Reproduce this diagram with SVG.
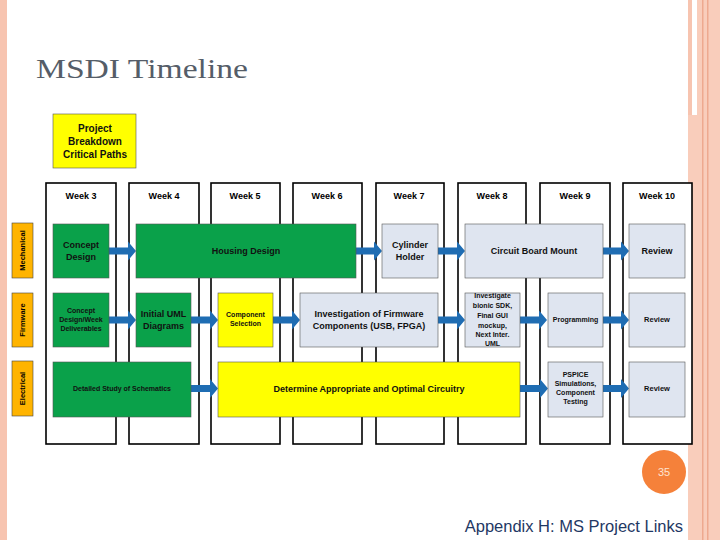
<svg xmlns="http://www.w3.org/2000/svg" width="720" height="540" viewBox="0 0 720 540">
<style>
.col{fill:#fff;stroke:#000;stroke-width:1.6}
.wk{font:bold 9px "Liberation Sans",Arial,sans-serif;fill:#000;text-anchor:middle}
.side{fill:#ffb400;stroke:#444;stroke-width:0.6}
.sidet{font:bold 7.5px "Liberation Sans",Arial,sans-serif;fill:#000;text-anchor:middle}
.g{fill:#0aa14a;stroke:#555;stroke-width:0.6}
.y{fill:#ffff00;stroke:#555;stroke-width:0.6}
.l{fill:#dfe5f0;stroke:#555;stroke-width:0.6}
.t{font-family:"Liberation Sans",Arial,sans-serif;font-weight:bold;fill:#111;text-anchor:middle}
.a{fill:#1f6db3}
</style>
<rect x="0" y="0" width="7" height="540" fill="#f7c4b0"/>
<rect x="688" y="0" width="4" height="115" fill="#f7c4b0"/>
<rect x="688" y="115" width="32" height="425" fill="#f9cdbb"/>
<rect x="697" y="0" width="23" height="540" fill="#f9cdbb"/>
<rect x="702" y="0" width="1.5" height="540" fill="#eea98f"/>
<rect x="707" y="0" width="1.5" height="540" fill="#eea98f"/>
<text x="36" y="78" font-family="Liberation Serif,serif" font-size="28" fill="#555d68" textLength="212" lengthAdjust="spacingAndGlyphs">MSDI Timeline</text>

<g id="critical-paths"><rect x="53" y="114" width="83" height="54" class="y" stroke="#000"/>
<text class="t" font-size="10"><tspan x="95" y="132">Project</tspan><tspan x="95" y="145">Breakdown</tspan><tspan x="95" y="158">Critical Paths</tspan></text></g>

<g id="weeks">
<rect class="col" x="46" y="183" width="70" height="261"/><text class="wk" x="81" y="199">Week 3</text>
<rect class="col" x="129" y="183" width="70" height="261"/><text class="wk" x="164" y="199">Week 4</text>
<rect class="col" x="211" y="183" width="69" height="261"/><text class="wk" x="245" y="199">Week 5</text>
<rect class="col" x="293" y="183" width="69" height="261"/><text class="wk" x="327" y="199">Week 6</text>
<rect class="col" x="376" y="183" width="68" height="261"/><text class="wk" x="409" y="199">Week 7</text>
<rect class="col" x="458" y="183" width="68" height="261"/><text class="wk" x="492" y="199">Week 8</text>
<rect class="col" x="540" y="183" width="70" height="261"/><text class="wk" x="575" y="199">Week 9</text>
<rect class="col" x="623" y="183" width="69" height="261"/><text class="wk" x="657" y="199">Week 10</text>
</g>

<g id="lanes">
<rect class="side" x="12" y="223" width="21" height="55"/><text class="sidet" transform="translate(25,250.5) rotate(-90)">Mechanical</text>
<rect class="side" x="12" y="293" width="21" height="54"/><text class="sidet" transform="translate(25,320) rotate(-90)">Firmware</text>
<rect class="side" x="12" y="361" width="21" height="55"/><text class="sidet" transform="translate(25,388.5) rotate(-90)">Electrical</text>
</g>

<g id="connectors">
<path class="a" d="M109 247.5h19v-6l8 9.5-8 9.5v-6h-19z"/>
<path class="a" d="M356 247.5h18v-6l8 9.5-8 9.5v-6h-18z"/>
<path class="a" d="M438 247.5h19v-6l8 9.5-8 9.5v-6h-19z"/>
<path class="a" d="M603 247.5h18v-6l8 9.5-8 9.5v-6h-18z"/>
<path class="a" d="M109 316.5h19v-6l8 9.5-8 9.5v-6h-19z"/>
<path class="a" d="M191 316.5h19v-6l8 9.5-8 9.5v-6h-19z"/>
<path class="a" d="M273 316.5h19v-6l8 9.5-8 9.5v-6h-19z"/>
<path class="a" d="M438 316.5h19v-6l8 9.5-8 9.5v-6h-19z"/>
<path class="a" d="M520 316.5h19v-6l8 9.5-8 9.5v-6h-19z"/>
<path class="a" d="M603 316.5h18v-6l8 9.5-8 9.5v-6h-18z"/>
<path class="a" d="M191 385h19v-6l8 9.5-8 9.5v-6h-19z"/>
<path class="a" d="M520 385h20v-6l8 9.5-8 9.5v-6h-20z"/>
<path class="a" d="M603 385h18v-6l8 9.5-8 9.5v-6h-18z"/>
</g>

<g id="concept-design"><rect class="g" x="53" y="224" width="56" height="54"/><text class="t" font-size="9"><tspan x="81" y="248">Concept</tspan><tspan x="81" y="260">Design</tspan></text></g>
<g id="housing-design"><rect class="g" x="136" y="224" width="220" height="54"/><text class="t" font-size="9" x="246" y="254">Housing Design</text></g>
<g id="cylinder-holder"><rect class="l" x="382" y="224" width="56" height="54"/><text class="t" font-size="9"><tspan x="410" y="248">Cylinder</tspan><tspan x="410" y="260">Holder</tspan></text></g>
<g id="circuit-board-mount"><rect class="l" x="465" y="224" width="138" height="54"/><text class="t" font-size="9" x="534" y="254">Circuit Board Mount</text></g>
<g id="review-m"><rect class="l" x="629" y="224" width="56" height="54"/><text class="t" font-size="9" x="657" y="254">Review</text></g>

<g id="concept-deliverables"><rect class="g" x="53" y="293" width="56" height="54"/><text class="t" font-size="7"><tspan x="81" y="313">Concept</tspan><tspan x="81" y="322">Design/Week</tspan><tspan x="81" y="331">Deliverables</tspan></text></g>
<g id="initial-uml"><rect class="g" x="136" y="293" width="55" height="54"/><text class="t" font-size="9"><tspan x="163.5" y="317">Initial UML</tspan><tspan x="163.5" y="329">Diagrams</tspan></text></g>
<g id="component-selection"><rect class="y" x="218" y="293" width="55" height="54"/><text class="t" font-size="7"><tspan x="245.5" y="317">Component</tspan><tspan x="245.5" y="326">Selection</tspan></text></g>
<g id="investigation"><rect class="l" x="300" y="293" width="138" height="54"/><text class="t" font-size="9"><tspan x="369" y="317">Investigation of Firmware</tspan><tspan x="369" y="329">Components (USB, FPGA)</tspan></text></g>
<g id="investigate-bionic"><rect class="l" x="465" y="293" width="55" height="54"/><text class="t" font-size="7"><tspan x="492.5" y="298">Investigate</tspan><tspan x="492.5" y="308">bionic SDK,</tspan><tspan x="492.5" y="318">Final GUI</tspan><tspan x="492.5" y="328">mockup,</tspan><tspan x="492.5" y="337">Next Inter.</tspan><tspan x="492.5" y="346">UML</tspan></text></g>
<g id="programming"><rect class="l" x="548" y="293" width="55" height="54"/><text class="t" font-size="7" x="575.5" y="322">Programming</text></g>
<g id="review-f"><rect class="l" x="629" y="293" width="56" height="54"/><text class="t" font-size="7.5" x="657" y="322">Review</text></g>

<g id="detailed-study"><rect class="g" x="53" y="362" width="138" height="55"/><text class="t" font-size="7" x="122" y="391">Detailed Study of Schematics</text></g>
<g id="determine-circuitry"><rect class="y" x="218" y="362" width="302" height="55"/><text class="t" font-size="9" x="369" y="392">Determine Appropriate and Optimal Circuitry</text></g>
<g id="pspice"><rect class="l" x="548" y="362" width="55" height="55"/><text class="t" font-size="7"><tspan x="575.5" y="377">PSPICE</tspan><tspan x="575.5" y="386">Simulations,</tspan><tspan x="575.5" y="395">Component</tspan><tspan x="575.5" y="404">Testing</tspan></text></g>
<g id="review-e"><rect class="l" x="629" y="362" width="56" height="55"/><text class="t" font-size="7.5" x="657" y="391">Review</text></g>

<circle cx="664" cy="472" r="22" fill="#f5813a"/>
<text x="664" y="476" font-family="Liberation Sans,sans-serif" font-size="11" fill="#fde3d0" text-anchor="middle">35</text>
<text x="683" y="532" font-family="Liberation Sans,Arial,sans-serif" font-size="16.5" fill="#1f3864" text-anchor="end">Appendix H: MS Project Links</text>
</svg>
